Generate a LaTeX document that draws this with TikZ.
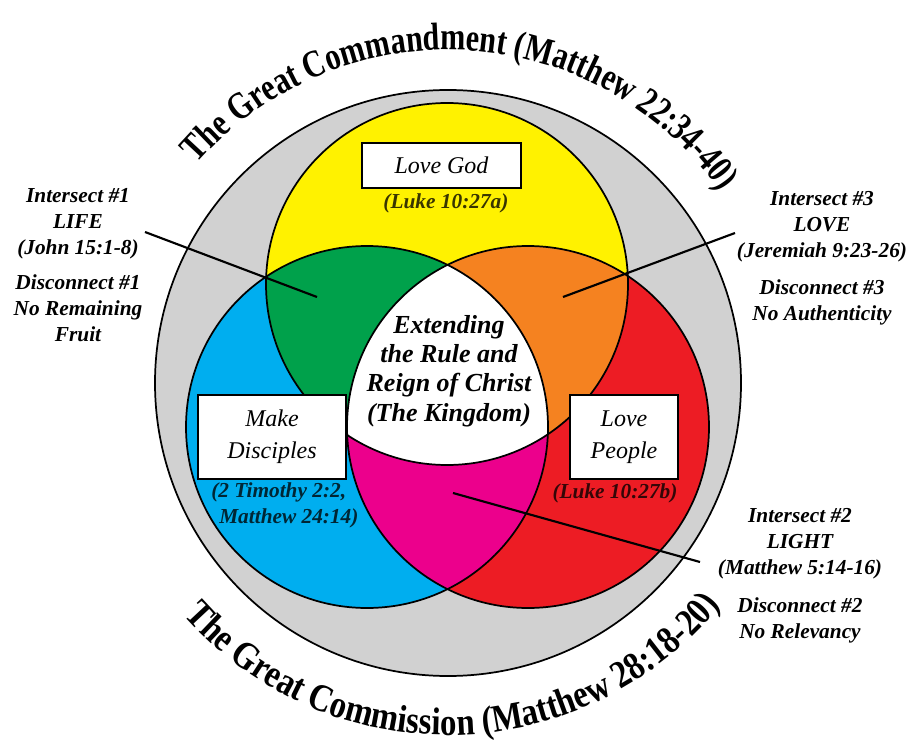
\documentclass[tikz,border=0pt]{standalone}
\usepackage{fontspec}
\setmainfont{Liberation Serif}
\newfontfamily\ttlfam[FakeStretch=0.78]{Liberation Serif}
\newfontfamily\ttlfamb[FakeStretch=0.85]{Liberation Serif}
\usetikzlibrary{decorations.text,calc}
\definecolor{cgrey}{HTML}{D1D1D1}
\definecolor{cyellow}{HTML}{FFF200}
\definecolor{cblue}{HTML}{00AEEF}
\definecolor{cred}{HTML}{ED1C24}
\definecolor{cgreen}{HTML}{00A14B}
\definecolor{corange}{HTML}{F58220}
\definecolor{cmagenta}{HTML}{EC008C}
\newcommand\ttlfont{\ttlfam\bfseries\fontsize{29}{29}\selectfont}
\newcommand\ttlfontb{\ttlfamb\bfseries\fontsize{29}{29}\selectfont}
\begin{document}
\begin{tikzpicture}[x=0.75pt,y=0.75pt,
  lbl/.style={font=\fontsize{16}{19.5}\selectfont\bfseries\itshape, align=center, inner sep=0pt},
  reftxt/.style={font=\fontsize{16}{19}\selectfont\bfseries\itshape, align=center, text opacity=0.78, inner sep=0pt},
  boxtxt/.style={draw=black, line width=2pt, fill=white, font=\fontsize{18}{24}\selectfont\itshape, align=center, inner sep=0pt},
  centertxt/.style={font=\fontsize{19.5}{22}\selectfont\bfseries\itshape, align=center, inner sep=0pt},
  conn/.style={line width=1.6pt, black},
  ring/.style={line width=1.3pt, black}
]
\useasboundingbox (0,0) rectangle (914,744);
\fill[white] (0,0) rectangle (914,744);
\coordinate (gc) at (448,361);
\coordinate (cy) at (447,460);
\coordinate (cb) at (367,317);
\coordinate (cr) at (528,317);

% outer grey ring
\fill[cgrey] (gc) circle[radius=293];
\draw[ring] (gc) circle[radius=293];

% three circles
\fill[cyellow] (cy) circle[radius=181];
\fill[cblue] (cb) circle[radius=181];
\fill[cred] (cr) circle[radius=181];
\begin{scope}
  \clip (cb) circle[radius=181];
  \fill[cmagenta] (cr) circle[radius=181];
\end{scope}
\begin{scope}
  \clip (cy) circle[radius=181];
  \fill[cgreen] (cb) circle[radius=181];
  \fill[corange] (cr) circle[radius=181];
  \clip (cb) circle[radius=181];
  \fill[white] (cr) circle[radius=181];
\end{scope}
\draw[ring] (cy) circle[radius=181];
\draw[ring] (cb) circle[radius=181];
\draw[ring] (cr) circle[radius=181];

% titles along arcs
\path[decorate, decoration={text along path, text align=center,
  text={|\ttlfont|The Great Commandment (Matthew 22:34-40)}}]
  ($(gc)+(166:333)$) arc[start angle=166, end angle=8, radius=333];
\path[decorate, decoration={text along path, text align=center,
  text={|\ttlfontb|The Great Commission (Matthew 28:18-20)}}]
  ($(gc)+(-169:352)$) arc[start angle=-169, end angle=-9, radius=352];

% boxes
\node[boxtxt, minimum width=119.25pt, minimum height=33.75pt] (lovegod) at (441.5,578.5) {Love God};
\node[boxtxt, minimum width=111pt, minimum height=63pt] (makedisc) at (272,307) {Make\\Disciples};
\node[boxtxt, minimum width=81pt, minimum height=63pt] (lovepeople) at (624,307) {Love\\People};

% references
\node[reftxt] (refa) at (446,541) {(Luke 10:27a)};
\node[reftxt, align=left, anchor=west] (refdisc) at (211,238.5) {(2 Timothy 2:2,\\\hspace*{6pt}Matthew 24:14)};
\node[reftxt] (refb) at (615,251) {(Luke 10:27b)};

% center
\node[centertxt] (kingdom) at (449,373) {Extending\\the Rule and\\Reign of Christ\\(The Kingdom)};

% side labels
\node[lbl] (int1) at (78,520) {Intersect \#1\\LIFE\\(John 15:1-8)};
\node[lbl] (dis1) at (78,436) {Disconnect \#1\\No Remaining\\Fruit};
\node[lbl] (int3) at (822,517) {Intersect \#3\\LOVE\\(Jeremiah 9:23-26)};
\node[lbl] (dis3) at (822,441.5) {Disconnect \#3\\No Authenticity};
\node[lbl] (int2) at (800,200) {Intersect \#2\\LIGHT\\(Matthew 5:14-16)};
\node[lbl] (dis2) at (800,123.5) {Disconnect \#2\\No Relevancy};

% connectors
\coordinate (l1a) at (145,512);
\coordinate (l1b) at (317,447);
\coordinate (l3a) at (563,447);
\coordinate (l3b) at (735,511);
\coordinate (l2a) at (453,251);
\coordinate (l2b) at (700,182);
\draw[conn] (l1a) -- (l1b);
\draw[conn] (l3a) -- (l3b);
\draw[conn] (l2a) -- (l2b);
\end{tikzpicture}
\end{document}
